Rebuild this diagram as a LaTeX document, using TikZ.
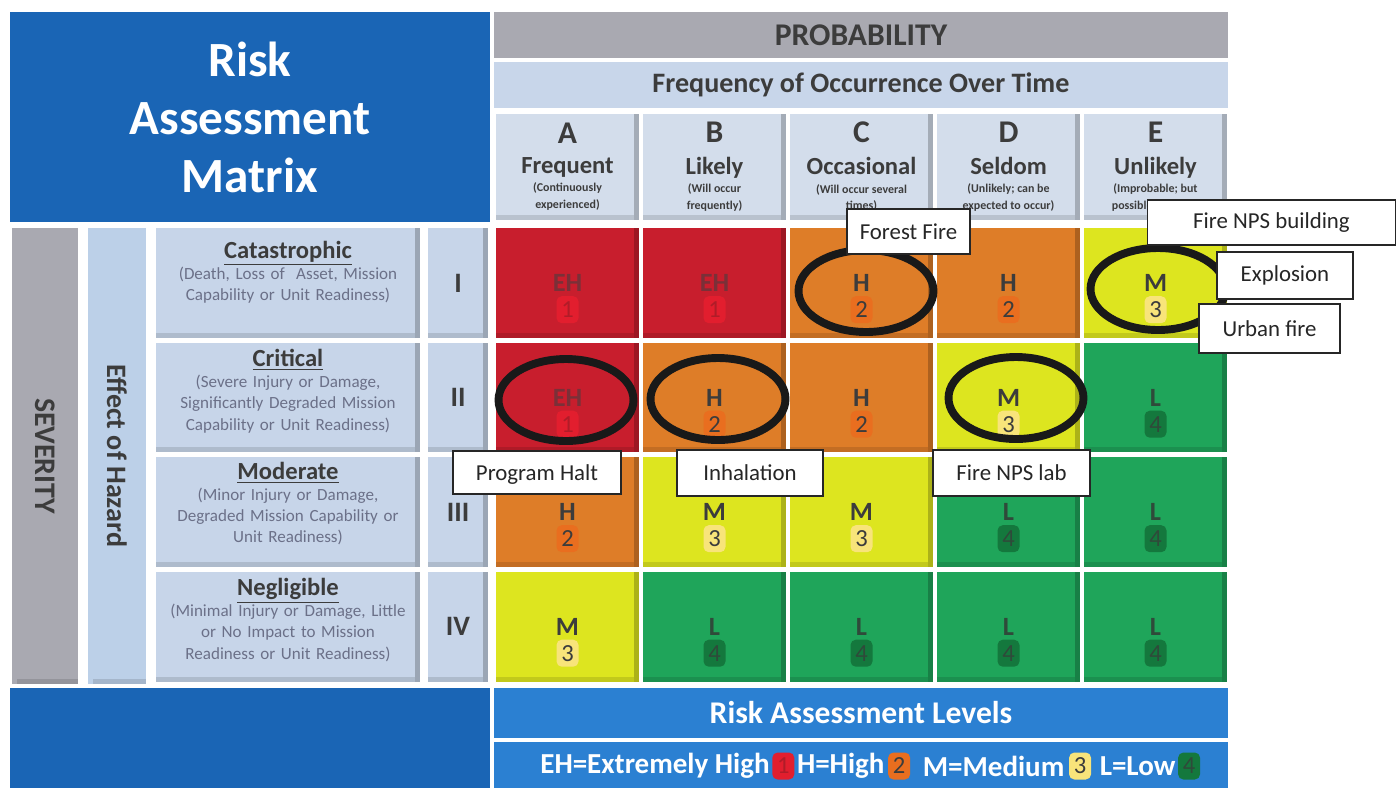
\documentclass[tikz,border=0pt]{standalone}
\usepackage{fontspec}
\setmainfont{Carlito}
\usetikzlibrary{shapes.geometric,positioning}

\definecolor{titleblue}{HTML}{1A65B5}
\definecolor{levelblue}{HTML}{2B80D2}
\definecolor{headgray}{HTML}{A9A9B1}
\definecolor{freqblue}{HTML}{C8D6EA}
\definecolor{colhead}{HTML}{D3DDEB}
\definecolor{effblue}{HTML}{BCD0E8}
\definecolor{sevbox}{HTML}{C7D5E9}
\definecolor{ink}{HTML}{3C3C3C}
\definecolor{descink}{HTML}{6B7088}
\definecolor{ehred}{HTML}{C81E2D}
\definecolor{ehbadge}{HTML}{E21E2E}
\definecolor{ehink}{HTML}{7A3038}
\definecolor{ehnum}{HTML}{B01C28}
\definecolor{horange}{HTML}{DE7D28}
\definecolor{hbadge}{HTML}{E96E1F}
\definecolor{myellow}{HTML}{DDE51F}
\definecolor{mbadge}{HTML}{F8E47A}
\definecolor{lgreen}{HTML}{1FA55A}
\definecolor{lbadge}{HTML}{14783D}
\definecolor{lnum}{HTML}{2F4A3A}

\begin{document}
\begin{tikzpicture}[x=0.02cm, y=-0.02cm,
        panel/.style={rectangle, inner sep=0pt, align=center, text=ink},
        bevel/.style={path picture={
            \fill[black, opacity=0.22] ([xshift=-0.1cm]path picture bounding box.north east) rectangle (path picture bounding box.south east);
            \fill[black, opacity=0.12] ([yshift=0.1cm]path picture bounding box.south west) rectangle ([xshift=-0.1cm]path picture bounding box.south east);}},
        bar/.style={panel, minimum width=14.68cm, minimum height=0.92cm},
        colbox/.style={panel, bevel, fill=colhead, minimum width=2.86cm, minimum height=2.12cm, font=\fontsize{6.8}{9.6}\selectfont\bfseries},
        sevpanel/.style={panel, bevel, fill=sevbox, minimum width=5.28cm, minimum height=2.2cm},
        sevtext/.style={panel, text=descink, text width=5.2cm, font=\fontsize{9.7}{12}\selectfont},
        romanbox/.style={panel, bevel, fill=sevbox, minimum width=1.2cm, minimum height=2.2cm, font=\fontsize{16}{16}\selectfont\bfseries},
        badge/.style={rectangle, rounded corners=3pt, inner sep=0pt, minimum width=0.44cm, minimum height=0.54cm, font=\fontsize{14}{14}\selectfont},
        cell/.style={panel, bevel, minimum width=2.86cm, minimum height=2.2cm, font=\fontsize{15}{15}\selectfont\bfseries},
        ehcell/.style={cell, fill=ehred, text=ehink, label={[badge, fill=ehbadge, text=ehnum, label distance=-0.85cm]below:1}},
        hcell/.style={cell, fill=horange, label={[badge, fill=hbadge, text=ink, label distance=-0.85cm]below:2}},
        mcell/.style={cell, fill=myellow, label={[badge, fill=mbadge, text=ink, label distance=-0.85cm]below:3}},
        lcell/.style={cell, fill=lgreen, text=lnum, label={[badge, fill=lbadge, text=lnum, label distance=-0.85cm]below:4}},
        ring/.style={ellipse, draw=black!90, line width=4.5pt, minimum width=2.7cm, minimum height=1.64cm, inner sep=0pt},
        tag/.style={rectangle, draw=black!85, line width=0.7pt, fill=white, inner sep=0pt, text=black!85, font=\fontsize{13}{13}\selectfont},
        legend/.style={inner sep=0pt, text=white, font=\fontsize{16.5}{17}\selectfont\bfseries}]
        \fill[white] (0, 0) rectangle (1398, 788);
        \useasboundingbox (0, 0) rectangle (1398, 788);

        % title and probability headers
        \node[panel, fill=titleblue, text=white, minimum width=9.6cm, minimum height=4.2cm, font=\fontsize{28}{33}\selectfont\bfseries] at (250, 117) (title) {Risk\\Assessment\\Matrix};
        \node[bar, fill=headgray, font=\fontsize{18}{18}\selectfont\bfseries] at (861, 35) (prob) {PROBABILITY};
        \node[bar, fill=freqblue, font=\fontsize{16}{16}\selectfont\bfseries] at (861, 85) (freq) {Frequency of Occurrence Over Time};

        \node[colbox] at (567.5, 167) (ha) {{\fontsize{18}{18}\selectfont A}\\[7pt]{\fontsize{14}{14}\selectfont Frequent}\\[1pt](Continuously\\experienced)};
        \node[colbox] at (714.5, 167) (hb) {{\fontsize{18}{18}\selectfont B}\\[7pt]{\fontsize{14}{14}\selectfont Likely}\\[1pt](Will occur\\frequently)};
        \node[colbox] at (861.5, 167) (hc) {{\fontsize{18}{18}\selectfont C}\\[7pt]{\fontsize{14}{14}\selectfont Occasional}\\[1pt](Will occur several\\times)};
        \node[colbox] at (1008.5, 167) (hd) {{\fontsize{18}{18}\selectfont D}\\[7pt]{\fontsize{14}{14}\selectfont Seldom}\\[1pt](Unlikely; can be\\expected to occur)};
        \node[colbox] at (1155.5, 167) (he) {{\fontsize{18}{18}\selectfont E}\\[7pt]{\fontsize{14}{14}\selectfont Unlikely}\\[1pt](Improbable; but\\possible to occur)};

        % severity side
        \node[panel, bevel, fill=headgray, rotate=-90, minimum width=9.12cm, minimum height=1.32cm, font=\fontsize{17}{17}\selectfont\bfseries] at (45, 456) (sev) {SEVERITY};
        \node[panel, bevel, fill=effblue, rotate=-90, minimum width=9.12cm, minimum height=1.16cm, font=\fontsize{16}{16}\selectfont\bfseries] at (117, 456) (effect) {Effect of Hazard};

        \node[sevpanel] at (288, 283) (cat) {};
        \node[sevtext, below=0.26cm of cat.north] (cattext) {{\color{ink}\fontsize{14}{14}\selectfont\bfseries\underline{Catastrophic}}\\(Death, Loss of\ \ Asset, Mission\\Capability or Unit Readiness)};
        \node[sevpanel] at (288, 397.5) (crit) {};
        \node[sevtext, below=0.14cm of crit.north] (crittext) {{\color{ink}\fontsize{14}{14}\selectfont\bfseries\underline{Critical}}\\(Severe Injury or Damage,\\Significantly Degraded Mission\\Capability or Unit Readiness)};
        \node[sevpanel] at (288, 512) (mod) {};
        \node[sevtext, below=0.1cm of mod.north] (modtext) {{\color{ink}\fontsize{14}{14}\selectfont\bfseries\underline{Moderate}}\\(Minor Injury or Damage,\\Degraded Mission Capability or\\Unit Readiness)};
        \node[sevpanel] at (288, 626.5) (negl) {};
        \node[sevtext, below=0.14cm of negl.north] (negltext) {{\color{ink}\fontsize{14}{14}\selectfont\bfseries\underline{Negligible}}\\(Minimal Injury or Damage, Little\\or No Impact to Mission\\Readiness or Unit Readiness)};

        \node[romanbox] at (458, 283) (r1) {I};
        \node[romanbox] at (458, 397.5) (r2) {II};
        \node[romanbox] at (458, 512) (r3) {III};
        \node[romanbox] at (458, 626.5) (r4) {IV};

        % risk cells
        \node[ehcell] at (567.5, 283) (a1) {EH};
        \node[ehcell] at (714.5, 283) (b1) {EH};
        \node[hcell] at (861.5, 283) (c1) {H};
        \node[hcell] at (1008.5, 283) (d1) {H};
        \node[mcell] at (1155.5, 283) (e1) {M};

        \node[ehcell] at (567.5, 397.5) (a2) {EH};
        \node[hcell] at (714.5, 397.5) (b2) {H};
        \node[hcell] at (861.5, 397.5) (c2) {H};
        \node[mcell] at (1008.5, 397.5) (d2) {M};
        \node[lcell] at (1155.5, 397.5) (e2) {L};

        \node[hcell] at (567.5, 512) (a3) {H};
        \node[mcell] at (714.5, 512) (b3) {M};
        \node[mcell] at (861.5, 512) (c3) {M};
        \node[lcell] at (1008.5, 512) (d3) {L};
        \node[lcell] at (1155.5, 512) (e3) {L};

        \node[mcell] at (567.5, 626.5) (a4) {M};
        \node[lcell] at (714.5, 626.5) (b4) {L};
        \node[lcell] at (861.5, 626.5) (c4) {L};
        \node[lcell] at (1008.5, 626.5) (d4) {L};
        \node[lcell] at (1155.5, 626.5) (e4) {L};

        % bottom legend
        \node[panel, fill=titleblue, minimum width=9.6cm, minimum height=2cm] at (250, 738) (corner) {};
        \node[bar, fill=levelblue, text=white, minimum height=1cm, font=\fontsize{18}{18}\selectfont\bfseries] at (861, 713) (levels) {Risk Assessment Levels};
        \node[bar, fill=levelblue] at (861, 765) (keybar) {};

        \node[legend, anchor=west] at (540, 766) (keyeh) {EH=Extremely High};
        \node[badge, fill=ehbadge, text=ehnum, right=0.04cm of keyeh] (key1) {1};
        \node[legend, right=0.04cm of key1] (keyh) {H=High};
        \node[badge, fill=hbadge, text=ink, right=0.06cm of keyh] (key2) {2};
        \node[legend, right=0.24cm of key2] (keym) {M=Medium};
        \node[badge, fill=mbadge, text=ink, right=0.08cm of keym] (key3) {3};
        \node[legend, right=0.16cm of key3] (keyl) {L=Low};
        \node[badge, fill=lbadge, text=lnum, right=0.04cm of keyl] (key4) {4};

        % circled hazards
        \node[ring] at (866, 291) (c1ring) {};
        \node[ring] at (1158, 289) (e1ring) {};
        \node[ring] at (566, 400) (a2ring) {};
        \node[ring] at (718, 399) (b2ring) {};
        \node[ring] at (1016, 398) (d2ring) {};

        \node[tag, minimum width=2.46cm, minimum height=0.9cm] at (908.5, 231.5) (forest) {Forest Fire};
        \node[tag, minimum width=4.96cm, minimum height=0.9cm] at (1271.5, 222.5) (npsbuilding) {Fire NPS building};
        \node[tag, minimum width=2.72cm, minimum height=0.94cm] at (1285, 275.5) (explosion) {Explosion};
        \node[tag, minimum width=2.82cm, minimum height=0.98cm] at (1269.5, 328.5) (urban) {Urban fire};
        \node[tag, minimum width=3.36cm, minimum height=0.86cm, text depth=-0.12cm] at (537, 472.5) (halt) {Program Halt};
        \node[tag, minimum width=2.92cm, minimum height=0.92cm] at (750, 473) (inhale) {Inhalation};
        \node[tag, minimum width=3.14cm, minimum height=0.92cm] at (1011.5, 473) (npslab) {Fire NPS lab};

    \end{tikzpicture}
\end{document}
